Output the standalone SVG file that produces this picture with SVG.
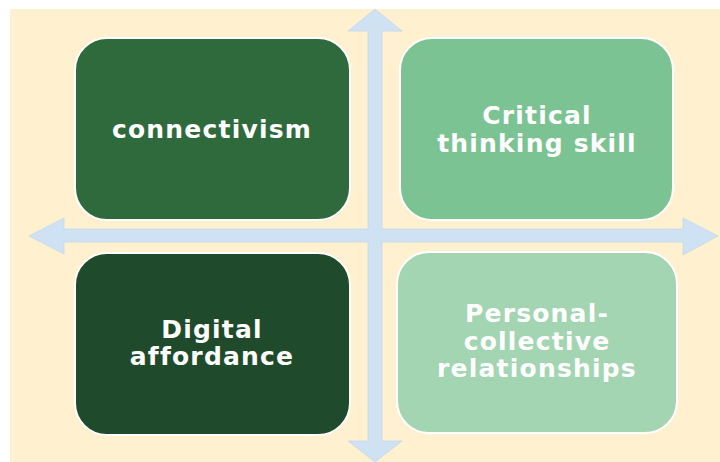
<svg xmlns="http://www.w3.org/2000/svg" width="720" height="462" viewBox="0 0 720 462">
  <style>
    .box { stroke: #ffffff; stroke-width: 2; }
    .lbl { font-family: "DejaVu Sans", "Liberation Sans", sans-serif; font-size: 25px; font-weight: bold; fill: #ffffff; text-anchor: middle; letter-spacing: 1.2px; }
    .arrow { fill: #cfe2f3; stroke: #c4d8ea; stroke-width: 0.8; }
  </style>
  <rect x="0" y="0" width="720" height="462" fill="#ffffff"/>
  <rect x="10" y="9" width="710" height="453" fill="#fff0cf"/>

  <!-- quadrant axes: one four-headed cross -->
  <g id="connectors">
    <polygon class="arrow" points="375,9 402,31 382,31 382,229 683,229 683,218 718,236 683,255 683,242 382,242 382,441 402,441 375,462 348,441 368,441 368,242 64,242 64,254 29,236 64,218 64,229 368,229 368,31 348,31"/>
  </g>

  <g id="node-connectivism">
    <rect class="box" x="75" y="38" width="275" height="182" rx="32" fill="#2e6a3c"/>
    <text class="lbl" x="212" y="138">connectivism</text>
  </g>

  <g id="node-critical">
    <rect class="box" x="400" y="38" width="273" height="182" rx="32" fill="#7cc393"/>
    <text class="lbl" x="537" y="124">Critical</text>
    <text class="lbl" x="537" y="152">thinking skill</text>
  </g>

  <g id="node-digital">
    <rect class="box" x="75" y="253" width="275" height="182" rx="32" fill="#1f4a2b"/>
    <text class="lbl" x="212" y="338">Digital</text>
    <text class="lbl" x="212" y="365">affordance</text>
  </g>

  <g id="node-personal">
    <rect class="box" x="397" y="252" width="280" height="181" rx="32" fill="#a3d5b2"/>
    <text class="lbl" x="537" y="322" fill="#f4f8ec">Personal-</text>
    <text class="lbl" x="537" y="350">collective</text>
    <text class="lbl" x="537" y="377">relationships</text>
  </g>
</svg>
